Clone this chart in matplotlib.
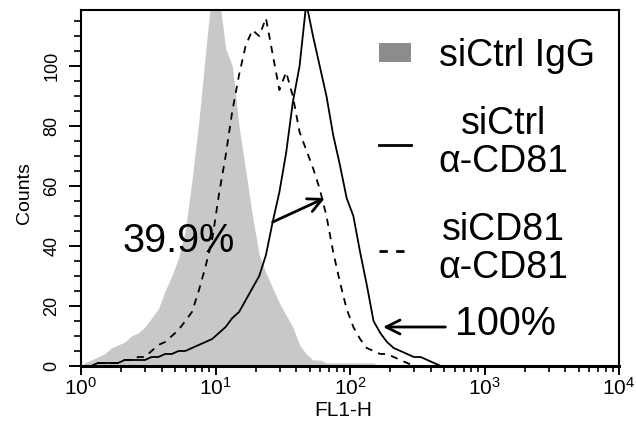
import numpy as np
import matplotlib
matplotlib.use("Agg")
import matplotlib.pyplot as plt
from matplotlib.patches import Patch
from matplotlib.lines import Line2D

plt.rcParams["font.family"] = ["Liberation Sans", "DejaVu Sans"]
plt.rcParams["mathtext.fontset"] = "custom"
plt.rcParams["mathtext.rm"] = "Liberation Sans"
plt.rcParams["mathtext.it"] = "Liberation Sans"
plt.rcParams["mathtext.bf"] = "Liberation Sans"

# histogram channels (log10 of FL1-H), 0.05 decade bins
log_edges = np.arange(0, 2.75, 0.05)
log_centers = log_edges[:-1] + 0.025

# counts per channel
igg_ctrl = [1, 2, 3, 4, 6, 7, 8, 10, 11, 13,
            16, 19, 25, 30, 36, 45, 62, 81, 104, 126,
            124, 106, 100, 80, 65, 50, 37, 31, 26, 21,
            17, 13, 7, 4, 2, 2, 1, 1, 1, 1,
            1, 1, 1, 1, 0, 0, 0, 0, 0, 0,
            0, 0, 0, 0]
cd81_ctrl = [0, 0, 1, 1, 1, 1, 2, 2, 2, 2,
             3, 3, 4, 4, 5, 5, 6, 7, 8, 9,
             11, 13, 16, 18, 22, 26, 30, 37, 48, 58,
             71, 88, 100, 121, 110, 100, 90, 77, 67, 56,
             50, 38, 27, 15, 11, 8, 6, 5, 4, 3,
             3, 2, 1, 0]
cd81_kd = [0, 0, 1, 1, 1, 1, 2, 2, 3, 3,
           5, 7, 8, 10, 12, 15, 18, 25, 33, 42,
           57, 70, 85, 97, 107, 112, 110, 116, 104, 92,
           98, 90, 78, 72, 66, 59, 50, 38, 28, 19,
           13, 9, 6, 5, 4, 4, 3, 2, 1, 0,
           0, 0, 0, 0]

labels = ["siCtrl IgG", "siCtrl\nα-CD81", "siCD81\nα-CD81"]

x = 10 ** log_centers

fig = plt.figure(figsize=(6.36, 4.30), dpi=100)
ax = fig.add_axes([81 / 636, 1 - 366 / 430, 538 / 636, 356 / 430])

ax.fill_between(x, igg_ctrl, 0, color="#c8c8c8", lw=0, zorder=1)
ax.plot(x, cd81_ctrl, color="black", lw=1.3, zorder=3)
ax.plot(x, cd81_kd, color="black", lw=1.3, ls=(0, (4, 3.5)), zorder=3)

ax.set_xscale("log")
ax.set_xlim(1, 1e4)
ax.set_ylim(0, 118.7)
ax.set_yticks([0, 20, 40, 60, 80, 100])
ax.set_yticks(np.arange(0, 119, 5), minor=True)

for s in ax.spines.values():
    s.set_linewidth(1.5)
ax.spines["bottom"].set_linewidth(2.2)

ax.tick_params(axis="x", which="major", direction="out", length=6.5, width=1.4,
               labelsize=15, pad=1)
ax.tick_params(axis="x", which="minor", direction="out", length=4.3, width=1.2)
ax.tick_params(axis="y", which="major", direction="out", length=9, width=1.4,
               labelsize=13, labelrotation=90, pad=6)
ax.tick_params(axis="y", which="minor", direction="out", length=5, width=1.2)
for t in ax.get_yticklabels():
    t.set_verticalalignment("center")

ax.set_xlabel("FL1-H", fontsize=15)
ax.xaxis.set_label_coords(0.487, -0.098)
ax.set_ylabel("Counts", fontsize=14)
ax.yaxis.set_label_coords(-0.089, 0.486)

# annotations
ax.text(2.02, 41.7, "39.9%", fontsize=28.5, ha="left", va="center")
ax.annotate("", xy=(65, 56), xytext=(26.6, 48),
            arrowprops=dict(arrowstyle="->", lw=2, mutation_scale=25,
                            shrinkA=0, shrinkB=0))
ax.text(605, 14, "100%", fontsize=28.5, ha="left", va="center")
ax.annotate("", xy=(176, 13), xytext=(512, 13),
            arrowprops=dict(arrowstyle="->", lw=2, mutation_scale=25,
                            shrinkA=0, shrinkB=0))

handles = [Patch(facecolor="#8c8c8c", edgecolor="none"),
           Line2D([], [], color="black", lw=2),
           Line2D([], [], color="black", lw=2, ls=(0, (3, 3)))]
leg = ax.legend(handles, labels, loc="upper right", bbox_to_anchor=(0.955, 0.922),
                frameon=False, fontsize=27, handlelength=0.85, handleheight=0.4,
                handletextpad=0.75, labelspacing=0.85, borderaxespad=0, borderpad=0)
for t in leg.get_texts():
    t.set_multialignment("center")
    t.set_linespacing(1.08)

fig.savefig("out.png", dpi=100, facecolor="white")
